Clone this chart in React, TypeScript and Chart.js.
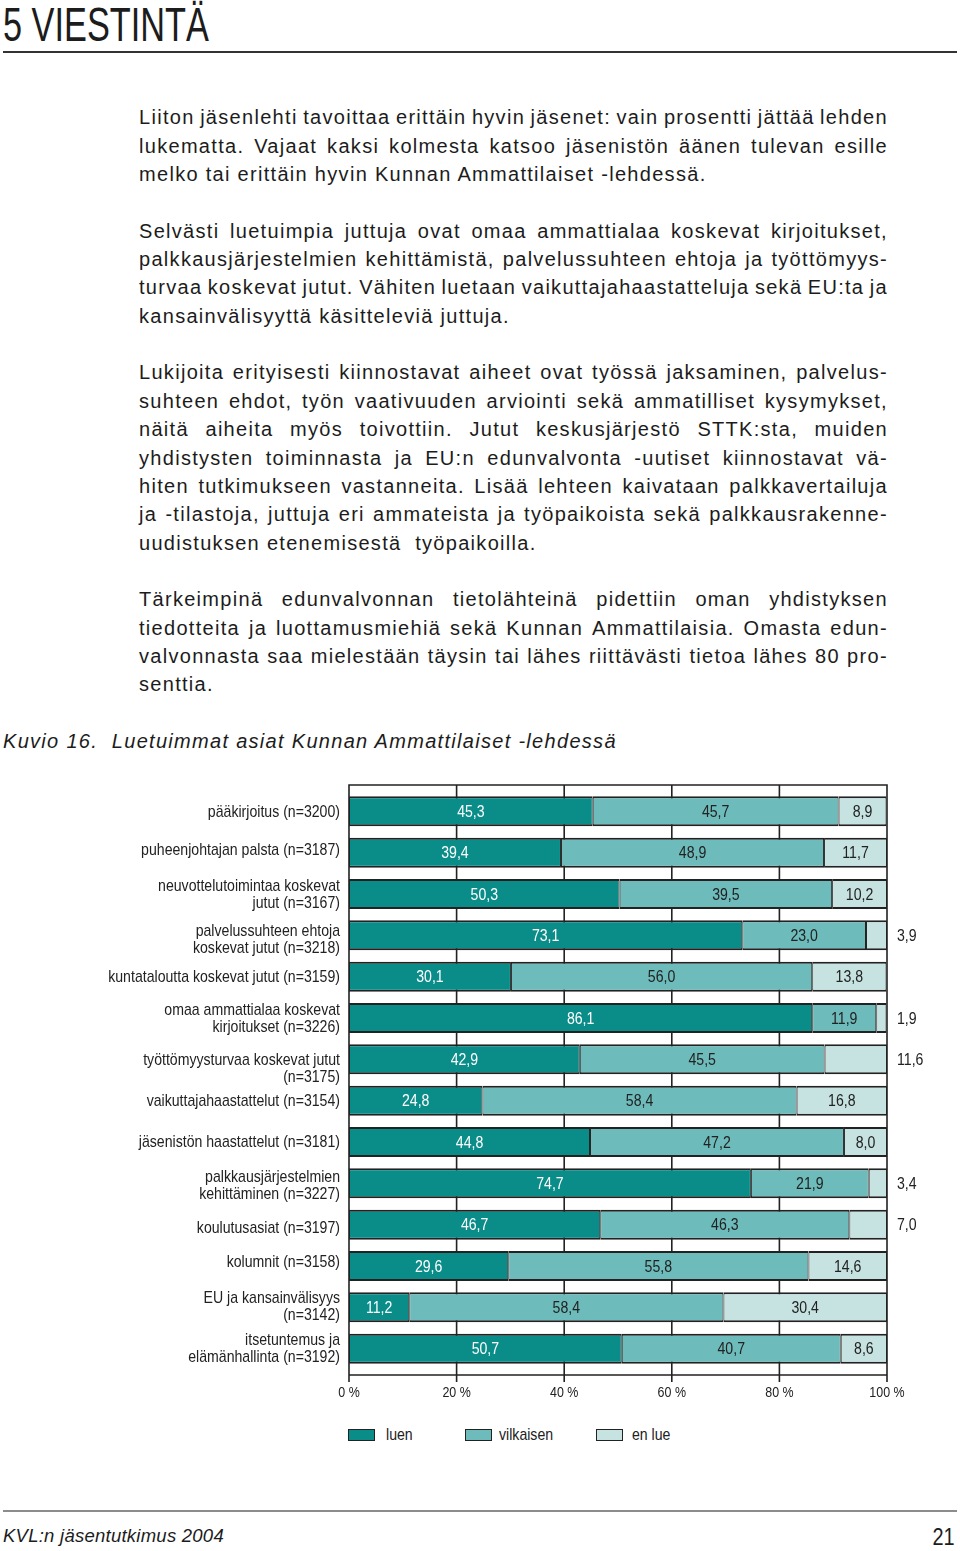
import React, { useEffect, useRef } from 'react';
import { Chart, registerables } from 'chart.js';

Chart.register(...registerables);

// ---------- chart data ----------
const categories: string[][] = [
  ['pääkirjoitus (n=3200)'],
  ['puheenjohtajan palsta (n=3187)'],
  ['neuvottelutoimintaa koskevat', 'jutut (n=3167)'],
  ['palvelussuhteen ehtoja', 'koskevat jutut (n=3218)'],
  ['kuntataloutta koskevat jutut (n=3159)'],
  ['omaa ammattialaa koskevat', 'kirjoitukset (n=3226)'],
  ['työttömyysturvaa koskevat jutut', '(n=3175)'],
  ['vaikuttajahaastattelut (n=3154)'],
  ['jäsenistön haastattelut (n=3181)'],
  ['palkkausjärjestelmien', 'kehittäminen (n=3227)'],
  ['koulutusasiat (n=3197)'],
  ['kolumnit (n=3158)'],
  ['EU ja kansainvälisyys', '(n=3142)'],
  ['itsetuntemus ja', 'elämänhallinta (n=3192)'],
];
const luen = [45.3, 39.4, 50.3, 73.1, 30.1, 86.1, 42.9, 24.8, 44.8, 74.7, 46.7, 29.6, 11.2, 50.7];
const vilkaisen = [45.7, 48.9, 39.5, 23.0, 56.0, 11.9, 45.5, 58.4, 47.2, 21.9, 46.3, 55.8, 58.4, 40.7];
const enLue = [8.9, 11.7, 10.2, 3.9, 13.8, 1.9, 11.6, 16.8, 8.0, 3.4, 7.0, 14.6, 30.4, 8.6];
const seriesNames = ['luen', 'vilkaisen', 'en lue'];
const seriesColors = ['#0a8c88', '#6dbbba', '#c6e3e2'];
const xTickValues = [0, 20, 40, 60, 80, 100];
const xTickLabels = ['0 %', '20 %', '40 %', '60 %', '80 %', '100 %'];
// rows whose "en lue" value is printed to the right of the chart
const outsideLabelRows = [3, 5, 6, 9, 10];

// typesetting nudges of some category labels (px, relative to bar centre)
const LABEL_NUDGE: Record<number, number> = { 1: -3, 3: 4, 6: 9, 9: 2, 10: 3, 11: -4, 12: -1.5 };

// ---------- page text ----------
const heading = '5 VIESTINTÄ';
const paragraphs: string[][] = [
  [
    'Liiton jäsenlehti tavoittaa erittäin hyvin jäsenet: vain prosentti jättää lehden',
    'lukematta. Vajaat kaksi kolmesta katsoo jäsenistön äänen tulevan esille',
    'melko tai erittäin hyvin Kunnan Ammattilaiset -lehdessä.',
  ],
  [
    'Selvästi luetuimpia juttuja ovat omaa ammattialaa koskevat kirjoitukset,',
    'palkkausjärjestelmien kehittämistä, palvelussuhteen ehtoja ja työttömyys-',
    'turvaa koskevat jutut. Vähiten luetaan vaikuttajahaastatteluja sekä EU:ta ja',
    'kansainvälisyyttä käsitteleviä juttuja.',
  ],
  [
    'Lukijoita erityisesti kiinnostavat aiheet ovat työssä jaksaminen, palvelus-',
    'suhteen ehdot, työn vaativuuden arviointi sekä ammatilliset kysymykset,',
    'näitä aiheita myös toivottiin. Jutut keskusjärjestö STTK:sta, muiden',
    'yhdistysten toiminnasta ja EU:n edunvalvonta -uutiset kiinnostavat vä-',
    'hiten tutkimukseen vastanneita. Lisää lehteen kaivataan palkkavertailuja',
    'ja -tilastoja, juttuja eri ammateista ja työpaikoista sekä palkkausrakenne-',
    'uudistuksen etenemisestä  työpaikoilla.',
  ],
  [
    'Tärkeimpinä edunvalvonnan tietolähteinä pidettiin oman yhdistyksen',
    'tiedotteita ja luottamusmiehiä sekä Kunnan Ammattilaisia. Omasta edun-',
    'valvonnasta saa mielestään täysin tai lähes riittävästi tietoa lähes 80 pro-',
    'senttia.',
  ],
];
const figureTitle = 'Kuvio 16.  Luetuimmat asiat Kunnan Ammattilaiset -lehdessä';
const footerLeft = 'KVL:n jäsentutkimus 2004';
const footerRight = '21';

const BODY = "'Liberation Sans', Arial, Helvetica, sans-serif";
const CANVAS_FONT = "'Liberation Sans', Arial, sans-serif";
const SQUEEZE = 0.83; // horizontal squeeze to mimic a condensed face
const INK = '#1c1c1c';
const CHART_INK = '#222';
const LH = 28.35;

const fmt = (v: number) => v.toFixed(1).replace('.', ',');

function framePad(chart: any) {
  const a = chart.chartArea;
  const n = chart.data.labels.length;
  const band = (a.bottom - a.top) / n;
  const bp = chart.data.datasets[0].barPercentage;
  return (band * (1 - bp)) / 2;
}

function squeezedText(ctx: any, txt: string, x: number, y: number) {
  ctx.save();
  ctx.translate(x, y);
  ctx.scale(SQUEEZE, 1);
  ctx.fillText(txt, 0, 0);
  ctx.restore();
}

const framePlugin = {
  id: 'frame',
  beforeDatasetsDraw(chart: any) {
    const { ctx, chartArea: a, scales } = chart;
    const xs = scales.x;
    const pad = framePad(chart);
    const top = a.top - pad;
    const bottom = a.bottom + pad;
    ctx.save();
    ctx.strokeStyle = CHART_INK;
    ctx.lineWidth = 1.6;
    ctx.beginPath();
    xTickValues.forEach((v) => {
      const px = xs.getPixelForValue(v);
      ctx.moveTo(px, top);
      ctx.lineTo(px, bottom + 7);
    });
    ctx.moveTo(a.left - 0.8, top);
    ctx.lineTo(a.right + 0.8, top);
    ctx.moveTo(a.left - 0.8, bottom);
    ctx.lineTo(a.right + 0.8, bottom);
    ctx.stroke();
    ctx.restore();
  },
  afterDraw(chart: any) {
    const { ctx, chartArea: a, scales } = chart;
    const xs = scales.x;
    const ys = scales.y;
    const pad = framePad(chart);
    ctx.save();
    ctx.fillStyle = CHART_INK;
    ctx.textBaseline = 'middle';
    // x tick labels
    ctx.font = `15px ${CANVAS_FONT}`;
    ctx.textAlign = 'center';
    xTickValues.forEach((v, i) => {
      squeezedText(ctx, xTickLabels[i], xs.getPixelForValue(v), a.bottom + pad + 18);
    });
    // category labels
    ctx.font = `17px ${CANVAS_FONT}`;
    ctx.textAlign = 'right';
    categories.forEach((lines, i) => {
      const cy = ys.getPixelForValue(i) + (LABEL_NUDGE[i] || 0);
      const lh = 17;
      const y0 = cy - ((lines.length - 1) * lh) / 2;
      lines.forEach((ln, k) => {
        squeezedText(ctx, ln, a.left - 9, y0 + k * lh + 0.5);
      });
    });
    ctx.restore();
  },
};

const valueLabelPlugin = {
  id: 'valueLabels',
  afterDatasetsDraw(chart: any) {
    const { ctx, chartArea } = chart;
    ctx.save();
    ctx.font = `17px ${CANVAS_FONT}`;
    ctx.textBaseline = 'middle';
    chart.data.datasets.forEach((ds: any, di: number) => {
      const meta = chart.getDatasetMeta(di);
      meta.data.forEach((el: any, i: number) => {
        const v = ds.data[i];
        const { x, y, base } = el.getProps(['x', 'y', 'base'], true);
        const txt = fmt(v);
        if (di === 2 && outsideLabelRows.includes(i)) {
          ctx.textAlign = 'left';
          ctx.fillStyle = CHART_INK;
          squeezedText(ctx, txt, chartArea.right + 10, y + 1);
        } else {
          ctx.textAlign = 'center';
          ctx.fillStyle = di === 0 ? '#ffffff' : CHART_INK;
          squeezedText(ctx, txt, (x + base) / 2, y + 1);
        }
      });
    });
    ctx.restore();
  },
};

function TextLine({ text, last }: { text: string; last: boolean }) {
  if (last) {
    return <div style={{ height: LH, whiteSpace: 'pre' }}>{text}</div>;
  }
  const words = text.split(/\s+/);
  return (
    <div style={{ height: LH, display: 'flex', justifyContent: 'space-between', whiteSpace: 'nowrap' }}>
      {words.map((w, i) => (
        <span key={i}>{w}</span>
      ))}
    </div>
  );
}

export default function App() {
  const canvasRef = useRef<HTMLCanvasElement>(null);

  useEffect(() => {
    const seriesData = [luen, vilkaisen, enLue];
    const chart = new Chart(canvasRef.current as HTMLCanvasElement, {
      type: 'bar',
      data: {
        labels: categories.map((c) => c.join(' ')),
        datasets: seriesNames.map((name, i) => ({
          label: name,
          data: seriesData[i],
          backgroundColor: seriesColors[i],
          borderColor: CHART_INK,
          borderWidth: { top: 2, bottom: 2, left: 1, right: 1 },
          borderSkipped: false,
          barPercentage: 0.726,
          categoryPercentage: 1,
        })),
      },
      options: {
        indexAxis: 'y',
        responsive: false,
        animation: false,
        devicePixelRatio: 1,
        layout: { padding: { top: 20.67, right: 73, bottom: 0, left: 0 } },
        plugins: { legend: { display: false }, tooltip: { enabled: false } },
        scales: {
          x: {
            stacked: true,
            min: 0,
            max: 100,
            ticks: { display: false, stepSize: 20 },
            grid: { display: false, drawTicks: false },
            border: { display: false },
            afterFit: (s: any) => {
              s.height = 40.67;
            },
          },
          y: {
            stacked: true,
            ticks: { display: false },
            grid: { display: false, drawTicks: false },
            border: { display: false },
            afterFit: (s: any) => {
              s.width = 349;
            },
          },
        },
      } as any,
      plugins: [framePlugin, valueLabelPlugin],
    });
    return () => chart.destroy();
  }, []);

  return (
    <div
      style={{
        position: 'absolute',
        left: 0,
        top: 0,
        width: 960,
        height: 1551,
        background: '#fff',
        overflow: 'hidden',
        fontFamily: BODY,
        color: INK,
      }}
    >
      <div
        style={{
          position: 'absolute',
          left: 3,
          top: -0.5,
          fontSize: 49,
          lineHeight: '49px',
          whiteSpace: 'nowrap',
          transform: 'scaleX(0.7)',
          transformOrigin: 'left top',
        }}
      >
        {heading}
      </div>
      <div style={{ position: 'absolute', left: 3, top: 51, width: 954, height: 2, background: '#333' }} />

      <div
        style={{
          position: 'absolute',
          left: 139,
          top: 103.4,
          width: 749,
          fontSize: 20,
          lineHeight: `${LH}px`,
          letterSpacing: 1.3,
        }}
      >
        {paragraphs.map((p, pi) => (
          <div key={pi} style={{ marginBottom: LH }}>
            {p.map((line, li) => (
              <TextLine key={li} text={line} last={li === p.length - 1} />
            ))}
          </div>
        ))}
      </div>

      <div
        style={{
          position: 'absolute',
          left: 3,
          top: 731,
          fontSize: 20,
          lineHeight: '20px',
          fontStyle: 'italic',
          letterSpacing: 1.3,
          whiteSpace: 'pre',
        }}
      >
        {figureTitle}
      </div>

      <canvas
        ref={canvasRef}
        width={960}
        height={640}
        style={{ position: 'absolute', left: 0, top: 770, width: 960, height: 640 }}
      />

      {seriesNames.map((name, i) => (
        <div
          key={name}
          style={{
            position: 'absolute',
            left: [348, 465, 596][i],
            top: 1426,
            height: 18,
            display: 'flex',
            alignItems: 'center',
            fontSize: 17,
            color: CHART_INK,
            whiteSpace: 'nowrap',
          }}
        >
          <span
            style={{
              display: 'inline-block',
              width: 27,
              height: 12,
              boxSizing: 'border-box',
              border: '1.5px solid #222',
              background: seriesColors[i],
              marginRight: [11, 7, 9][i],
            }}
          />
          <span style={{ display: 'inline-block', transform: `scaleX(${SQUEEZE})`, transformOrigin: 'left center' }}>
            {name}
          </span>
        </div>
      ))}

      <div style={{ position: 'absolute', left: 3, top: 1510, width: 954, height: 2, background: '#8c8c8c' }} />
      <div
        style={{
          position: 'absolute',
          left: 3,
          top: 1527.3,
          fontSize: 18.5,
          lineHeight: '18.5px',
          fontStyle: 'italic',
          letterSpacing: 0.25,
          whiteSpace: 'nowrap',
        }}
      >
        {footerLeft}
      </div>
      <div
        style={{
          position: 'absolute',
          right: 5,
          top: 1524.7,
          fontSize: 24,
          lineHeight: '24px',
          whiteSpace: 'nowrap',
          transform: `scaleX(${SQUEEZE})`,
          transformOrigin: 'right top',
        }}
      >
        {footerRight}
      </div>
    </div>
  );
}
